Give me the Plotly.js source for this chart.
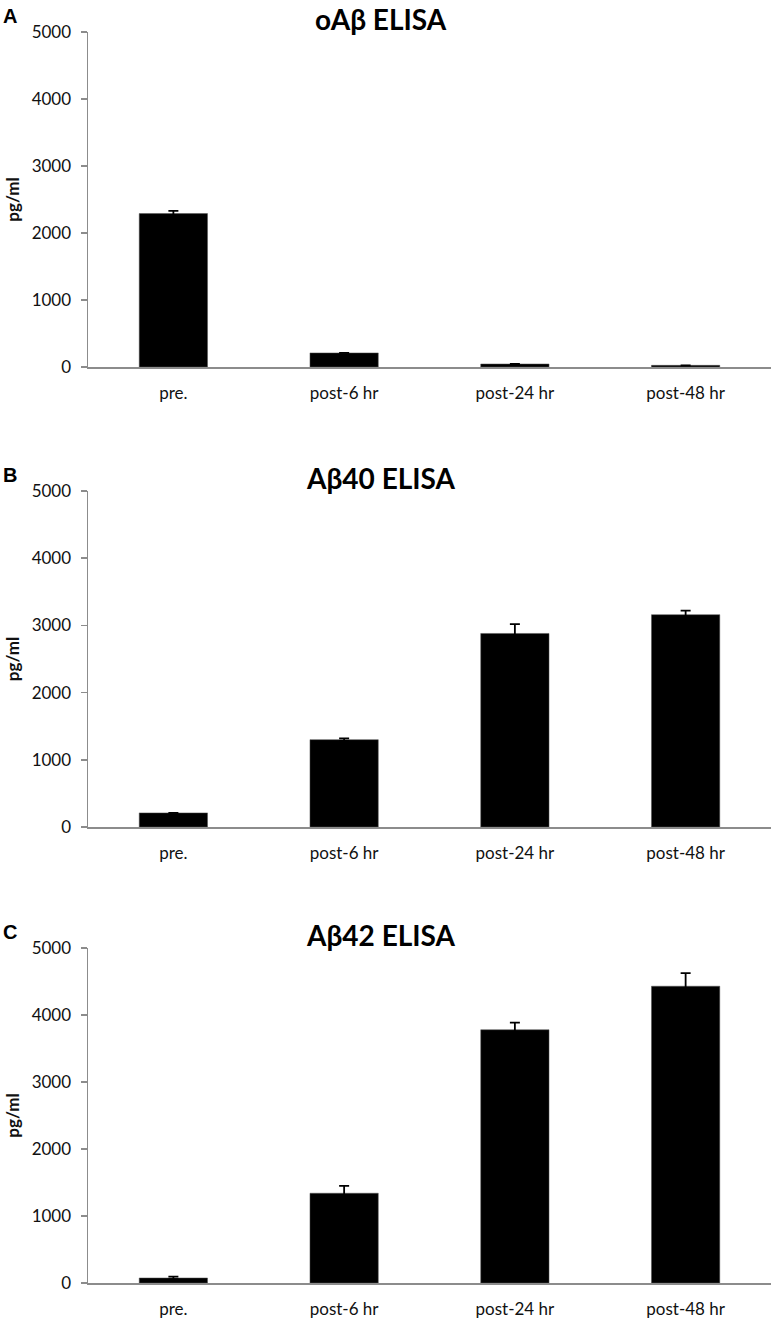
<!DOCTYPE html>
<html>
<head>
<meta charset="utf-8">
<script src="https://cdn.plot.ly/plotly-3.0.1.min.js"></script>
<style>html,body{margin:0;padding:0;background:#fff;}#chart{width:775px;height:1322px;}</style>
</head>
<body>
<div id="chart"></div>
<script>
const categories = ["pre.", "post-6 hr", "post-24 hr", "post-48 hr"];
const panelTitles = ["oAβ ELISA", "Aβ40 ELISA", "Aβ42 ELISA"];
const panelLetters = ["A", "B", "C"];
const yTickVals = [0, 1000, 2000, 3000, 4000, 5000];

const oAbValues = [2290, 210, 45, 25];
const oAbErrors = [40, 0, 0, 0];
const ab40Values = [210, 1300, 2880, 3160];
const ab40Errors = [0, 20, 140, 60];
const ab42Values = [75, 1340, 3780, 4430];
const ab42Errors = [20, 110, 105, 195];

const seriesValues = [oAbValues, ab40Values, ab42Values];
const seriesErrors = [oAbErrors, ab40Errors, ab42Errors];

const W = 775, H = 1322;
const xDom = [88 / W, 771 / W];
const panelsPx = [[32, 367], [491, 827], [948, 1283]];
const FONT = "Lato, 'Open Sans', sans-serif";

const data = [];
const layout = {
  width: W, height: H,
  margin: {l: 0, r: 0, t: 0, b: 0},
  paper_bgcolor: "#fff", plot_bgcolor: "#fff",
  showlegend: false,
  bargap: 0.6,
  font: {family: FONT, color: "#111", size: 17},
  annotations: []
};

for (let i = 0; i < 3; i++) {
  const xa = i === 0 ? "x" : "x" + (i + 1);
  const ya = i === 0 ? "y" : "y" + (i + 1);
  data.push({
    type: "bar",
    x: categories,
    y: seriesValues[i],
    xaxis: xa, yaxis: ya,
    marker: {color: "#000", line: {width: 0.5, color: "#555"}},
    error_y: {type: "data", array: seriesErrors[i], visible: true, color: "#000", thickness: 1.8, width: 5},
    hoverinfo: "skip"
  });
  const [top, bot] = panelsPx[i];
  const yDom = [1 - bot / H, 1 - top / H];
  const xk = i === 0 ? "xaxis" : "xaxis" + (i + 1);
  const yk = i === 0 ? "yaxis" : "yaxis" + (i + 1);
  layout[xk] = {
    domain: xDom, anchor: ya,
    type: "category",
    showline: true, linecolor: "#8c8c8c", linewidth: 1.5,
    ticks: "", showgrid: false, zeroline: false,
    tickfont: {size: 17, color: "#111", family: FONT},
    ticklabelstandoff: 10
  };
  layout[yk] = {
    domain: yDom, anchor: xa,
    range: [0, 5000],
    tickvals: yTickVals,
    ticktext: yTickVals.map(String),
    showline: true, linecolor: "#8c8c8c", linewidth: 1.5,
    ticks: "outside", ticklen: 6, tickcolor: "#8c8c8c", tickwidth: 1.5,
    showgrid: false, zeroline: false,
    tickfont: {size: 17, color: "#111", family: FONT},
    ticklabelstandoff: 6,
    title: {text: "<b>pg/ml</b>", font: {size: 17, color: "#111", family: FONT}, standoff: 7}
  };
  layout.annotations.push({
    text: "<b>" + panelTitles[i] + "</b>",
    xref: "paper", yref: "paper",
    x: 381 / W, y: 1 - (top - 13) / H,
    xanchor: "center", yanchor: "middle",
    showarrow: false,
    font: {size: 28, color: "#000", family: FONT}
  });
  layout.annotations.push({
    text: "<b>" + panelLetters[i] + "</b>",
    xref: "paper", yref: "paper",
    x: 1 / W, y: 1 - (top - 16) / H,
    xanchor: "left", yanchor: "middle",
    showarrow: false,
    font: {size: 20, color: "#000", family: "'Liberation Sans', Arial, sans-serif"}
  });
}

Plotly.newPlot("chart", data, layout, {staticPlot: true, displayModeBar: false});
</script>
</body>
</html>
